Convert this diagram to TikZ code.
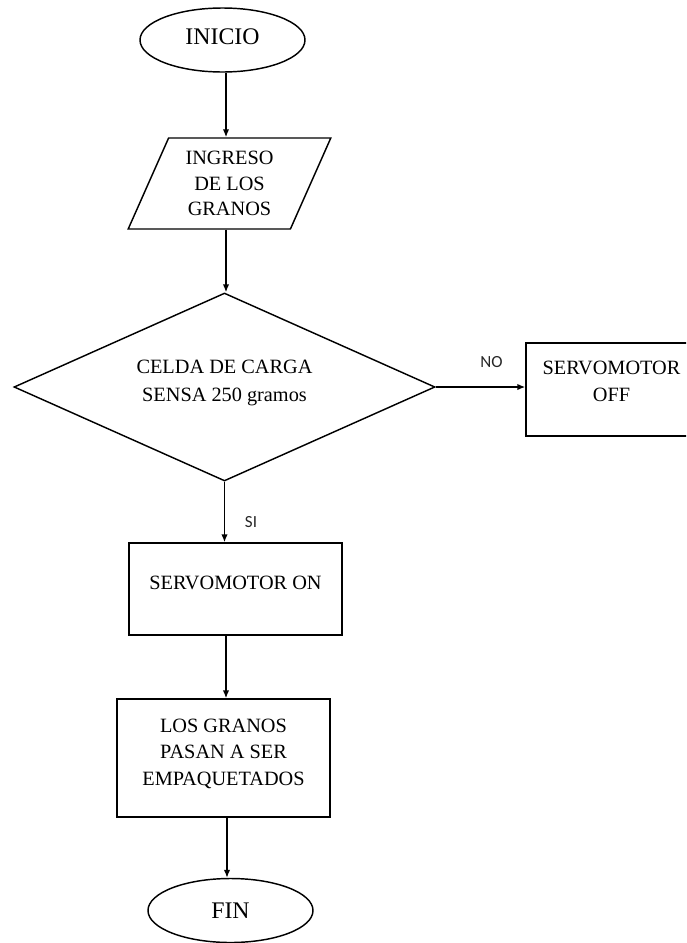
\documentclass[tikz,border=0pt]{standalone}
\usepackage{fontspec}
\setmainfont{Liberation Serif}
\newfontfamily\lblfont{Carlito}
\usetikzlibrary{shapes.geometric,arrows.meta}
\begin{document}
\begin{tikzpicture}[x=1pt,y=-1pt,
  txt/.style={font=\fontsize{20.3}{26}\selectfont, text=black},
  shp/.style={txt, draw=black, line width=1.45pt, inner sep=0pt, align=center},
  term/.style={shp, ellipse, minimum width=165pt, minimum height=64pt, font=\fontsize{23.8}{28}\selectfont},
  io/.style={shp, trapezium, trapezium left angle=65.7, trapezium right angle=114.3,
    trapezium stretches=true, minimum width=203pt, minimum height=91pt},
  dec/.style={shp, diamond, aspect=2.24, minimum width=421pt, minimum height=188pt},
  proc/.style={shp, rectangle, minimum width=213pt},
  arr/.style={line width=1.45pt, -{Latex[length=8pt,width=6.5pt]}},
  lbl/.style={font=\lblfont\fontsize{17}{20}\selectfont, text=black!85, inner sep=0pt}
]
\useasboundingbox (0,0) rectangle (686,943);
\clip (0,0) rectangle (686,943);
\coordinate (spine) at (226,0);

\node[term, text depth=6pt] (inicio) at (222.5,40) {INICIO};
\node[io, font=\fontsize{20.3}{25.5}\selectfont] (ingreso) at (229.5,183.5) {INGRESO\\DE LOS\\GRANOS};
\node[dec, font=\fontsize{20.3}{28}\selectfont, text depth=12pt] (celda) at (224.5,387) {CELDA DE CARGA\\SENSA 250 gramos};
\node[proc, minimum width=171pt, minimum height=93pt, font=\fontsize{20.3}{27}\selectfont, text depth=16pt] (off) at (611.5,389.5) {SERVOMOTOR\\OFF};
\node[proc, minimum height=92pt, text depth=12pt] (on) at (235.5,589) {SERVOMOTOR ON};
\node[proc, minimum height=118pt, font=\fontsize{20.3}{26.5}\selectfont, text depth=12pt] (empaq) at (223.5,758) {LOS GRANOS\\PASAN A SER\\EMPAQUETADOS};
\node[term] (fin) at (230.5,910.5) {FIN};

\draw[arr] (inicio.south -| spine) -- (ingreso.north -| spine);
\draw[arr] (ingreso.south -| spine) -- (celda.north -| spine);
\draw[arr] (celda.south) -- (celda.south |- on.north);
\draw[arr] (on.south -| spine) -- (empaq.north -| spine);
\draw[arr] ([xshift=3.5pt]empaq.south) -- ([xshift=3.5pt]empaq.south |- fin.north);
\draw[arr] (celda.east) -- (celda.east -| off.west);

\node[lbl] (no) at (491.5,362) {NO};
\node[lbl] (si) at (251,522) {SI};
\end{tikzpicture}
\end{document}
